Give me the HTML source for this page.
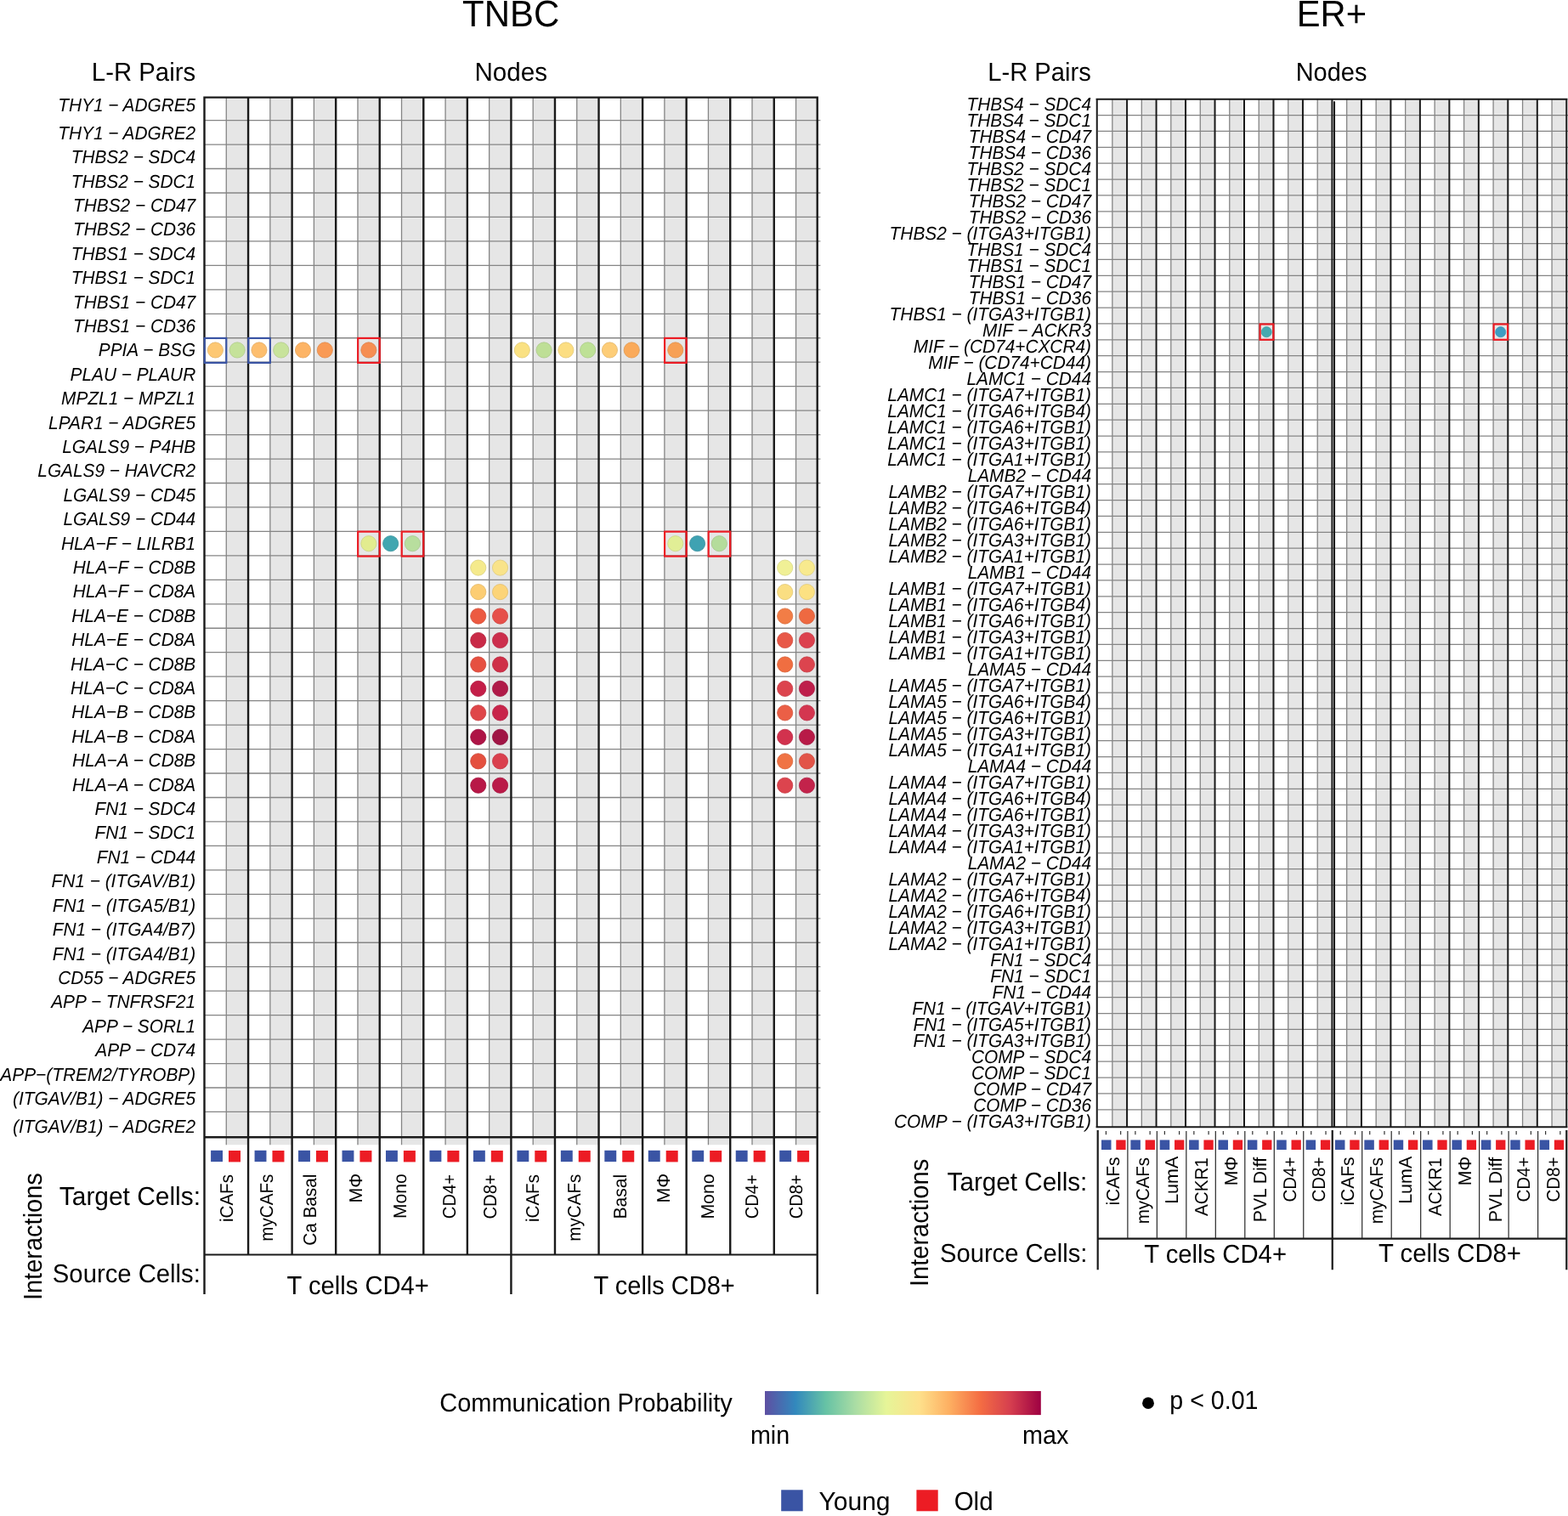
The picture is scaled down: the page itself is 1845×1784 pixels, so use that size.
<!DOCTYPE html>
<html><head><meta charset="utf-8"><title>CellChat comparison</title>
<style>html,body{margin:0;padding:0;background:#fff;}body{width:1845px;height:1784px;overflow:hidden;}svg{display:block;}</style>
</head><body>
<svg width="1845" height="1784" viewBox="0 0 1845 1784" text-rendering="geometricPrecision">
<rect x="0" y="0" width="1845" height="1784" fill="#fff"/>
<g fill="#e6e6e6"><rect x="266.28" y="114.6" width="25.78" height="1232.6"/><rect x="317.84" y="114.6" width="25.78" height="1232.6"/><rect x="369.4" y="114.6" width="25.78" height="1232.6"/><rect x="420.96" y="114.6" width="25.78" height="1232.6"/><rect x="472.52" y="114.6" width="25.78" height="1232.6"/><rect x="524.08" y="114.6" width="25.78" height="1232.6"/><rect x="575.64" y="114.6" width="25.78" height="1232.6"/><rect x="627.2" y="114.6" width="25.78" height="1232.6"/><rect x="678.76" y="114.6" width="25.78" height="1232.6"/><rect x="730.32" y="114.6" width="25.78" height="1232.6"/><rect x="781.88" y="114.6" width="25.78" height="1232.6"/><rect x="833.44" y="114.6" width="25.78" height="1232.6"/><rect x="885" y="114.6" width="25.78" height="1232.6"/><rect x="936.56" y="114.6" width="25.78" height="1232.6"/></g>
<path d="M240.5 141.6H965.34M240.5 170.06H965.34M240.5 198.52H965.34M240.5 226.98H965.34M240.5 255.44H965.34M240.5 283.9H965.34M240.5 312.36H965.34M240.5 340.82H965.34M240.5 369.28H965.34M240.5 397.74H965.34M240.5 426.2H965.34M240.5 454.66H965.34M240.5 483.12H965.34M240.5 511.58H965.34M240.5 540.04H965.34M240.5 568.5H965.34M240.5 596.96H965.34M240.5 625.42H965.34M240.5 653.88H965.34M240.5 682.34H965.34M240.5 710.8H965.34M240.5 739.26H965.34M240.5 767.72H965.34M240.5 796.18H965.34M240.5 824.64H965.34M240.5 853.1H965.34M240.5 881.56H965.34M240.5 910.02H965.34M240.5 938.48H965.34M240.5 966.94H965.34M240.5 995.4H965.34M240.5 1023.86H965.34M240.5 1052.32H965.34M240.5 1080.78H965.34M240.5 1109.24H965.34M240.5 1137.7H965.34M240.5 1166.16H965.34M240.5 1194.62H965.34M240.5 1223.08H965.34M240.5 1251.54H965.34M240.5 1280H965.34M240.5 1308.46H965.34M266.28 114.6V1347.2M317.84 114.6V1347.2M369.4 114.6V1347.2M420.96 114.6V1347.2M472.52 114.6V1347.2M524.08 114.6V1347.2M575.64 114.6V1347.2M627.2 114.6V1347.2M678.76 114.6V1347.2M730.32 114.6V1347.2M781.88 114.6V1347.2M833.44 114.6V1347.2M885 114.6V1347.2M936.56 114.6V1347.2" stroke="#858585" stroke-width="1.3" fill="none"/>
<path d="M240.5 114.6V1523M292.06 114.6V1476.5M343.62 114.6V1476.5M395.18 114.6V1476.5M446.74 114.6V1476.5M498.3 114.6V1476.5M549.86 114.6V1476.5M601.42 114.6V1523M652.98 114.6V1476.5M704.54 114.6V1476.5M756.1 114.6V1476.5M807.66 114.6V1476.5M859.22 114.6V1476.5M910.78 114.6V1476.5M961.7 114.6V1523M239.3 114.6H962.9M239.3 1338.2H962.9" stroke="#1a1a1a" stroke-width="2.4" fill="none"/>
<path d="M240.5 1476.5H961.7" stroke="#1a1a1a" stroke-width="2.2" fill="none"/>
<g fill="#e6e6e6"><rect x="1308.84" y="116.7" width="17.24" height="1209.6"/><rect x="1343.32" y="116.7" width="17.24" height="1209.6"/><rect x="1377.8" y="116.7" width="17.24" height="1209.6"/><rect x="1412.28" y="116.7" width="17.24" height="1209.6"/><rect x="1446.76" y="116.7" width="17.24" height="1209.6"/><rect x="1481.24" y="116.7" width="17.24" height="1209.6"/><rect x="1515.72" y="116.7" width="17.24" height="1209.6"/><rect x="1550.2" y="116.7" width="17.24" height="1209.6"/><rect x="1584.68" y="116.7" width="17.24" height="1209.6"/><rect x="1619.16" y="116.7" width="17.24" height="1209.6"/><rect x="1653.64" y="116.7" width="17.24" height="1209.6"/><rect x="1688.12" y="116.7" width="17.24" height="1209.6"/><rect x="1722.6" y="116.7" width="17.24" height="1209.6"/><rect x="1757.08" y="116.7" width="17.24" height="1209.6"/><rect x="1791.56" y="116.7" width="17.24" height="1209.6"/><rect x="1826.04" y="116.7" width="17.24" height="1209.6"/></g>
<path d="M1291.95 135.57H1845M1291.95 154.45H1845M1291.95 173.32H1845M1291.95 192.2H1845M1291.95 211.07H1845M1291.95 229.95H1845M1291.95 248.82H1845M1291.95 267.7H1845M1291.95 286.57H1845M1291.95 305.45H1845M1291.95 324.32H1845M1291.95 343.2H1845M1291.95 362.07H1845M1291.95 380.95H1845M1291.95 399.82H1845M1291.95 418.7H1845M1291.95 437.57H1845M1291.95 456.45H1845M1291.95 475.32H1845M1291.95 494.2H1845M1291.95 513.08H1845M1291.95 531.95H1845M1291.95 550.83H1845M1291.95 569.7H1845M1291.95 588.58H1845M1291.95 607.45H1845M1291.95 626.33H1845M1291.95 645.2H1845M1291.95 664.08H1845M1291.95 682.95H1845M1291.95 701.83H1845M1291.95 720.7H1845M1291.95 739.58H1845M1291.95 758.45H1845M1291.95 777.33H1845M1291.95 796.2H1845M1291.95 815.08H1845M1291.95 833.95H1845M1291.95 852.83H1845M1291.95 871.7H1845M1291.95 890.58H1845M1291.95 909.45H1845M1291.95 928.33H1845M1291.95 947.2H1845M1291.95 966.08H1845M1291.95 984.95H1845M1291.95 1003.83H1845M1291.95 1022.7H1845M1291.95 1041.58H1845M1291.95 1060.45H1845M1291.95 1079.33H1845M1291.95 1098.2H1845M1291.95 1117.08H1845M1291.95 1135.95H1845M1291.95 1154.83H1845M1291.95 1173.7H1845M1291.95 1192.58H1845M1291.95 1211.45H1845M1291.95 1230.33H1845M1291.95 1249.2H1845M1291.95 1268.08H1845M1291.95 1286.95H1845M1291.95 1305.83H1845M1308.84 116.7V1326.3M1343.32 116.7V1326.3M1377.8 116.7V1326.3M1412.28 116.7V1326.3M1446.76 116.7V1326.3M1481.24 116.7V1326.3M1515.72 116.7V1326.3M1550.2 116.7V1326.3M1584.68 116.7V1326.3M1619.16 116.7V1326.3M1653.64 116.7V1326.3M1688.12 116.7V1326.3M1722.6 116.7V1326.3M1757.08 116.7V1326.3M1791.56 116.7V1326.3M1826.04 116.7V1326.3" stroke="#858585" stroke-width="1.3" fill="none"/>
<path d="M1290.75 116.7V1326.3M1326.08 116.7V1326.3M1360.56 116.7V1326.3M1395.04 116.7V1326.3M1429.52 116.7V1326.3M1464 116.7V1326.3M1498.48 116.7V1326.3M1532.96 116.7V1326.3M1567.44 116.7V1326.3M1601.92 116.7V1326.3M1636.4 116.7V1326.3M1670.88 116.7V1326.3M1705.36 116.7V1326.3M1739.84 116.7V1326.3M1774.32 116.7V1326.3M1808.8 116.7V1326.3M1843.28 116.7V1326.3M1570.04 119.2V1326.3M1289.55 116.7H1844.48M1289.55 1326.3H1844.48" stroke="#1a1a1a" stroke-width="2.0" fill="none"/>
<path d="M1291.7 1330V1494.2M1567.74 1330V1494.2M1843.28 1330V1494.2M1291.6 1457.6H1843.28" stroke="#1a1a1a" stroke-width="2.2" fill="none"/>
<path d="M1326.88 1331V1457M1361.36 1331V1457M1395.84 1331V1457M1430.32 1331V1457M1464.8 1331V1457M1499.28 1331V1457M1533.76 1331V1457M1602.72 1331V1457M1637.2 1331V1457M1671.68 1331V1457M1706.16 1331V1457M1740.64 1331V1457M1775.12 1331V1457M1809.6 1331V1457" stroke="#2a2a2a" stroke-width="1.2" fill="none"/>
<path d="M1301.42 1331V1335.2M1318.66 1331V1335.2M1335.9 1331V1335.2M1353.14 1331V1335.2M1370.38 1331V1335.2M1387.62 1331V1335.2M1404.86 1331V1335.2M1422.1 1331V1335.2M1439.34 1331V1335.2M1456.58 1331V1335.2M1473.82 1331V1335.2M1491.06 1331V1335.2M1508.3 1331V1335.2M1525.54 1331V1335.2M1542.78 1331V1335.2M1560.02 1331V1335.2M1577.26 1331V1335.2M1594.5 1331V1335.2M1611.74 1331V1335.2M1628.98 1331V1335.2M1646.22 1331V1335.2M1663.46 1331V1335.2M1680.7 1331V1335.2M1697.94 1331V1335.2M1715.18 1331V1335.2M1732.42 1331V1335.2M1749.66 1331V1335.2M1766.9 1331V1335.2M1784.14 1331V1335.2M1801.38 1331V1335.2M1818.62 1331V1335.2M1835.86 1331V1335.2" stroke="#333" stroke-width="1.2" fill="none"/>
<rect x="248.1" y="1353.8" width="13.9" height="13.3" fill="#3a54a4"/><rect x="269" y="1354.0" width="14" height="13.4" fill="#ec1c24"/><rect x="299.57" y="1353.8" width="13.9" height="13.3" fill="#3a54a4"/><rect x="320.47" y="1354.0" width="14" height="13.4" fill="#ec1c24"/><rect x="351.04" y="1353.8" width="13.9" height="13.3" fill="#3a54a4"/><rect x="371.94" y="1354.0" width="14" height="13.4" fill="#ec1c24"/><rect x="402.51" y="1353.8" width="13.9" height="13.3" fill="#3a54a4"/><rect x="423.41" y="1354.0" width="14" height="13.4" fill="#ec1c24"/><rect x="453.98" y="1353.8" width="13.9" height="13.3" fill="#3a54a4"/><rect x="474.88" y="1354.0" width="14" height="13.4" fill="#ec1c24"/><rect x="505.45" y="1353.8" width="13.9" height="13.3" fill="#3a54a4"/><rect x="526.35" y="1354.0" width="14" height="13.4" fill="#ec1c24"/><rect x="556.92" y="1353.8" width="13.9" height="13.3" fill="#3a54a4"/><rect x="577.82" y="1354.0" width="14" height="13.4" fill="#ec1c24"/><rect x="608.39" y="1353.8" width="13.9" height="13.3" fill="#3a54a4"/><rect x="629.29" y="1354.0" width="14" height="13.4" fill="#ec1c24"/><rect x="659.86" y="1353.8" width="13.9" height="13.3" fill="#3a54a4"/><rect x="680.76" y="1354.0" width="14" height="13.4" fill="#ec1c24"/><rect x="711.33" y="1353.8" width="13.9" height="13.3" fill="#3a54a4"/><rect x="732.23" y="1354.0" width="14" height="13.4" fill="#ec1c24"/><rect x="762.8" y="1353.8" width="13.9" height="13.3" fill="#3a54a4"/><rect x="783.7" y="1354.0" width="14" height="13.4" fill="#ec1c24"/><rect x="814.27" y="1353.8" width="13.9" height="13.3" fill="#3a54a4"/><rect x="835.17" y="1354.0" width="14" height="13.4" fill="#ec1c24"/><rect x="865.74" y="1353.8" width="13.9" height="13.3" fill="#3a54a4"/><rect x="886.64" y="1354.0" width="14" height="13.4" fill="#ec1c24"/><rect x="917.21" y="1353.8" width="13.9" height="13.3" fill="#3a54a4"/><rect x="938.11" y="1354.0" width="14" height="13.4" fill="#ec1c24"/><rect x="1296" y="1341.5" width="11.5" height="11.5" fill="#3a54a4"/><rect x="1313.3" y="1341.5" width="11.3" height="11.5" fill="#ec1c24"/><rect x="1330.37" y="1341.5" width="11.5" height="11.5" fill="#3a54a4"/><rect x="1347.67" y="1341.5" width="11.3" height="11.5" fill="#ec1c24"/><rect x="1364.74" y="1341.5" width="11.5" height="11.5" fill="#3a54a4"/><rect x="1382.04" y="1341.5" width="11.3" height="11.5" fill="#ec1c24"/><rect x="1399.11" y="1341.5" width="11.5" height="11.5" fill="#3a54a4"/><rect x="1416.41" y="1341.5" width="11.3" height="11.5" fill="#ec1c24"/><rect x="1433.48" y="1341.5" width="11.5" height="11.5" fill="#3a54a4"/><rect x="1450.78" y="1341.5" width="11.3" height="11.5" fill="#ec1c24"/><rect x="1467.85" y="1341.5" width="11.5" height="11.5" fill="#3a54a4"/><rect x="1485.15" y="1341.5" width="11.3" height="11.5" fill="#ec1c24"/><rect x="1502.22" y="1341.5" width="11.5" height="11.5" fill="#3a54a4"/><rect x="1519.52" y="1341.5" width="11.3" height="11.5" fill="#ec1c24"/><rect x="1536.59" y="1341.5" width="11.5" height="11.5" fill="#3a54a4"/><rect x="1553.89" y="1341.5" width="11.3" height="11.5" fill="#ec1c24"/><rect x="1570.96" y="1341.5" width="11.5" height="11.5" fill="#3a54a4"/><rect x="1588.26" y="1341.5" width="11.3" height="11.5" fill="#ec1c24"/><rect x="1605.33" y="1341.5" width="11.5" height="11.5" fill="#3a54a4"/><rect x="1622.63" y="1341.5" width="11.3" height="11.5" fill="#ec1c24"/><rect x="1639.7" y="1341.5" width="11.5" height="11.5" fill="#3a54a4"/><rect x="1657" y="1341.5" width="11.3" height="11.5" fill="#ec1c24"/><rect x="1674.07" y="1341.5" width="11.5" height="11.5" fill="#3a54a4"/><rect x="1691.37" y="1341.5" width="11.3" height="11.5" fill="#ec1c24"/><rect x="1708.44" y="1341.5" width="11.5" height="11.5" fill="#3a54a4"/><rect x="1725.74" y="1341.5" width="11.3" height="11.5" fill="#ec1c24"/><rect x="1742.81" y="1341.5" width="11.5" height="11.5" fill="#3a54a4"/><rect x="1760.11" y="1341.5" width="11.3" height="11.5" fill="#ec1c24"/><rect x="1777.18" y="1341.5" width="11.5" height="11.5" fill="#3a54a4"/><rect x="1794.48" y="1341.5" width="11.3" height="11.5" fill="#ec1c24"/><rect x="1811.55" y="1341.5" width="11.5" height="11.5" fill="#3a54a4"/><rect x="1828.85" y="1341.5" width="11.3" height="11.5" fill="#ec1c24"/>
<circle cx="253.39" cy="411.97" r="9.1" fill="#fdc873" stroke="#e3b467" stroke-width="0.8"/><circle cx="279.17" cy="411.97" r="9.1" fill="#c5e29a" stroke="#b1cb8a" stroke-width="0.8"/><circle cx="304.95" cy="411.97" r="9.1" fill="#fdbe6e" stroke="#e3ab63" stroke-width="0.8"/><circle cx="330.73" cy="411.97" r="9.1" fill="#c8e39b" stroke="#b4cc8b" stroke-width="0.8"/><circle cx="356.51" cy="411.97" r="9.1" fill="#fdb465" stroke="#e3a25a" stroke-width="0.8"/><circle cx="382.29" cy="411.97" r="9.1" fill="#f99a55" stroke="#e08a4c" stroke-width="0.8"/><circle cx="433.85" cy="411.97" r="9.1" fill="#f68e52" stroke="#dd7f49" stroke-width="0.8"/><circle cx="614.31" cy="411.97" r="9.1" fill="#fae182" stroke="#e1ca75" stroke-width="0.8"/><circle cx="640.09" cy="411.97" r="9.1" fill="#bedf96" stroke="#abc887" stroke-width="0.8"/><circle cx="665.87" cy="411.97" r="9.1" fill="#fcde82" stroke="#e2c775" stroke-width="0.8"/><circle cx="691.65" cy="411.97" r="9.1" fill="#bee196" stroke="#abca87" stroke-width="0.8"/><circle cx="717.43" cy="411.97" r="9.1" fill="#fdcd78" stroke="#e3b86c" stroke-width="0.8"/><circle cx="743.21" cy="411.97" r="9.1" fill="#faaa5a" stroke="#e19951" stroke-width="0.8"/><circle cx="794.77" cy="411.97" r="9.1" fill="#f7a055" stroke="#de904c" stroke-width="0.8"/><circle cx="433.85" cy="639.65" r="9.1" fill="#e2ec8f" stroke="#cbd480" stroke-width="0.8"/><circle cx="459.63" cy="639.65" r="9.1" fill="#42a6b0" stroke="#3b959e" stroke-width="0.8"/><circle cx="485.41" cy="639.65" r="9.1" fill="#b8de9e" stroke="#a5c78e" stroke-width="0.8"/><circle cx="794.77" cy="639.65" r="9.1" fill="#e1ee96" stroke="#cad687" stroke-width="0.8"/><circle cx="820.55" cy="639.65" r="9.1" fill="#3fa2b2" stroke="#3891a0" stroke-width="0.8"/><circle cx="846.33" cy="639.65" r="9.1" fill="#b4dc9b" stroke="#a2c68b" stroke-width="0.8"/><circle cx="562.75" cy="668.11" r="9.1" fill="#f5ea8c" stroke="#dcd27e" stroke-width="0.8"/><circle cx="588.53" cy="668.11" r="9.1" fill="#f9e38a" stroke="#e0cc7c" stroke-width="0.8"/><circle cx="923.67" cy="668.11" r="9.1" fill="#f0f096" stroke="#d8d887" stroke-width="0.8"/><circle cx="949.45" cy="668.11" r="9.1" fill="#f8ea8e" stroke="#dfd27f" stroke-width="0.8"/><circle cx="562.75" cy="696.57" r="9.1" fill="#fccd73" stroke="#e2b867" stroke-width="0.8"/><circle cx="588.53" cy="696.57" r="9.1" fill="#fcd478" stroke="#e2be6c" stroke-width="0.8"/><circle cx="923.67" cy="696.57" r="9.1" fill="#fade82" stroke="#e1c775" stroke-width="0.8"/><circle cx="949.45" cy="696.57" r="9.1" fill="#fce182" stroke="#e2ca75" stroke-width="0.8"/><circle cx="562.75" cy="725.03" r="9.1" fill="#ec5a41" stroke="#d4513a" stroke-width="0.8"/><circle cx="588.53" cy="725.03" r="9.1" fill="#e6504a" stroke="#cf4842" stroke-width="0.8"/><circle cx="923.67" cy="725.03" r="9.1" fill="#f27d46" stroke="#d9703f" stroke-width="0.8"/><circle cx="949.45" cy="725.03" r="9.1" fill="#ee6941" stroke="#d65e3a" stroke-width="0.8"/><circle cx="562.75" cy="753.49" r="9.1" fill="#c92a47" stroke="#b4253f" stroke-width="0.8"/><circle cx="588.53" cy="753.49" r="9.1" fill="#cc2e4c" stroke="#b72944" stroke-width="0.8"/><circle cx="923.67" cy="753.49" r="9.1" fill="#e85848" stroke="#d04f40" stroke-width="0.8"/><circle cx="949.45" cy="753.49" r="9.1" fill="#dc414e" stroke="#c63a46" stroke-width="0.8"/><circle cx="562.75" cy="781.95" r="9.1" fill="#e65041" stroke="#cf483a" stroke-width="0.8"/><circle cx="588.53" cy="781.95" r="9.1" fill="#cf2f48" stroke="#ba2a40" stroke-width="0.8"/><circle cx="923.67" cy="781.95" r="9.1" fill="#f06e41" stroke="#d8633a" stroke-width="0.8"/><circle cx="949.45" cy="781.95" r="9.1" fill="#dc444e" stroke="#c63d46" stroke-width="0.8"/><circle cx="562.75" cy="810.41" r="9.1" fill="#c41e48" stroke="#b01b40" stroke-width="0.8"/><circle cx="588.53" cy="810.41" r="9.1" fill="#b01a48" stroke="#9e1740" stroke-width="0.8"/><circle cx="923.67" cy="810.41" r="9.1" fill="#dc444e" stroke="#c63d46" stroke-width="0.8"/><circle cx="949.45" cy="810.41" r="9.1" fill="#be1e4b" stroke="#ab1b43" stroke-width="0.8"/><circle cx="562.75" cy="838.87" r="9.1" fill="#df4649" stroke="#c83f41" stroke-width="0.8"/><circle cx="588.53" cy="838.87" r="9.1" fill="#c8244a" stroke="#b42042" stroke-width="0.8"/><circle cx="923.67" cy="838.87" r="9.1" fill="#eb5f46" stroke="#d3553f" stroke-width="0.8"/><circle cx="949.45" cy="838.87" r="9.1" fill="#d43650" stroke="#be3048" stroke-width="0.8"/><circle cx="562.75" cy="867.33" r="9.1" fill="#ae1446" stroke="#9c123f" stroke-width="0.8"/><circle cx="588.53" cy="867.33" r="9.1" fill="#a01444" stroke="#90123d" stroke-width="0.8"/><circle cx="923.67" cy="867.33" r="9.1" fill="#d2324e" stroke="#bd2d46" stroke-width="0.8"/><circle cx="949.45" cy="867.33" r="9.1" fill="#b81a47" stroke="#a5173f" stroke-width="0.8"/><circle cx="562.75" cy="895.79" r="9.1" fill="#e4503f" stroke="#cd4838" stroke-width="0.8"/><circle cx="588.53" cy="895.79" r="9.1" fill="#da404e" stroke="#c43946" stroke-width="0.8"/><circle cx="923.67" cy="895.79" r="9.1" fill="#f07344" stroke="#d8673d" stroke-width="0.8"/><circle cx="949.45" cy="895.79" r="9.1" fill="#e25448" stroke="#cb4b40" stroke-width="0.8"/><circle cx="562.75" cy="924.25" r="9.1" fill="#b81847" stroke="#a5153f" stroke-width="0.8"/><circle cx="588.53" cy="924.25" r="9.1" fill="#ba1a48" stroke="#a71740" stroke-width="0.8"/><circle cx="923.67" cy="924.25" r="9.1" fill="#dc444e" stroke="#c63d46" stroke-width="0.8"/><circle cx="949.45" cy="924.25" r="9.1" fill="#c3234b" stroke="#af1f43" stroke-width="0.8"/><circle cx="1490.26" cy="390.69" r="6.1" fill="#47a9b0" stroke="#3f989e" stroke-width="0.7"/><circle cx="1765.7" cy="390.69" r="6.1" fill="#3d9dc2" stroke="#368dae" stroke-width="0.7"/>
<rect x="240.7" y="397.94" width="25.58" height="28.96" fill="none" stroke="#3a54a4" stroke-width="2.2"/><rect x="292.26" y="397.94" width="25.58" height="28.96" fill="none" stroke="#3a54a4" stroke-width="2.2"/><rect x="421.16" y="397.94" width="25.58" height="28.96" fill="none" stroke="#ec1c24" stroke-width="2.2"/><rect x="782.08" y="397.94" width="25.58" height="28.96" fill="none" stroke="#ec1c24" stroke-width="2.2"/><rect x="421.16" y="625.62" width="25.58" height="28.96" fill="none" stroke="#ec1c24" stroke-width="2.2"/><rect x="472.72" y="625.62" width="25.58" height="28.96" fill="none" stroke="#ec1c24" stroke-width="2.2"/><rect x="782.08" y="625.62" width="25.58" height="28.96" fill="none" stroke="#ec1c24" stroke-width="2.2"/><rect x="833.64" y="625.62" width="25.58" height="28.96" fill="none" stroke="#ec1c24" stroke-width="2.2"/><rect x="1482.6" y="381.5" width="15.8" height="18.3" fill="none" stroke="#ec1c24" stroke-width="2.2"/><rect x="1757.6" y="381.5" width="16.5" height="18.3" fill="none" stroke="#ec1c24" stroke-width="2.2"/>
<g style="font-family:'Liberation Sans',Arial,sans-serif" fill="#000">
<text id="tnbc" transform="translate(544.04 31) scale(0.9621 1)" font-size="43.6">TNBC</text>
<text id="erp" transform="translate(1525.74 31.2) scale(0.9568 1)" font-size="43.6">ER+</text>
<text id="nodesL" transform="translate(558.46 95.2) scale(0.9738 1)" font-size="30.4">Nodes</text>
<text id="nodesR" transform="translate(1524.7 94.6) scale(0.9529 1)" font-size="30.4">Nodes</text>
<text id="lrL" transform="translate(107.87 94.9) scale(0.9650 1)" font-size="30.4">L-R Pairs</text>
<text id="lrR" transform="translate(1162.3 95.1) scale(0.9585 1)" font-size="30.4">L-R Pairs</text>
<text id="tcL" transform="translate(69.82 1418) scale(0.9836 1)" font-size="30.4">Target Cells:</text>
<text id="scL" transform="translate(61.84 1508.8) scale(0.9627 1)" font-size="30.4">Source Cells:</text>
<text id="cd4L" transform="translate(337.61 1523) scale(0.9590 1)" font-size="30.4">T cells CD4+</text>
<text id="cd8L" transform="translate(698.61 1523) scale(0.9532 1)" font-size="30.4">T cells CD8+</text>
<text id="tcR" transform="translate(1114.62 1400.8) scale(0.9753 1)" font-size="30.4">Target Cells:</text>
<text id="scR" transform="translate(1106.06 1485.1) scale(0.9588 1)" font-size="30.4">Source Cells:</text>
<text id="cd4R" transform="translate(1346.21 1485.9) scale(0.9628 1)" font-size="30.4">T cells CD4+</text>
<text id="cd8R" transform="translate(1622.04 1484.9) scale(0.9634 1)" font-size="30.4">T cells CD8+</text>
<text id="comm" transform="translate(517.27 1661) scale(0.9531 1)" font-size="30.4">Communication Probability</text>
<text id="min" transform="translate(882.92 1698.8) scale(0.9444 1)" font-size="30.4">min</text>
<text id="max" transform="translate(1202.91 1698.8) scale(0.9473 1)" font-size="30.4">max</text>
<text id="pval" transform="translate(1376.28 1657.6) scale(0.9417 1)" font-size="30.4">p &lt; 0.01</text>
<text id="young" transform="translate(963.41 1776.7) scale(0.9892 1)" font-size="30.4">Young</text>
<text id="old" transform="translate(1122.65 1776.7) scale(0.9705 1)" font-size="30.4">Old</text>
<text id="intL" transform="translate(48.9 1530.08) rotate(-90) scale(0.9542 1)" font-size="30.4">Interactions</text>
<text id="intR" transform="translate(1092.4 1514.06) rotate(-90) scale(0.9562 1)" font-size="30.4">Interactions</text>
<text id="l0" transform="translate(273.7 1437.95) rotate(-90) scale(0.9544 1)" font-size="21.5">iCAFs</text>
<text id="l1" transform="translate(320.55 1460.74) rotate(-90) scale(0.9600 1)" font-size="21.5">myCAFs</text>
<text id="l2" transform="translate(371.6 1465.77) rotate(-90) scale(0.9635 1)" font-size="21.5">Ca Basal</text>
<text id="l3" transform="translate(425.75 1415.58) rotate(-90) scale(0.9906 1)" font-size="21.5">MΦ</text>
<text id="l4" transform="translate(478.4 1433.97) rotate(-90) scale(0.9824 1)" font-size="21.5">Mono</text>
<text id="l5" transform="translate(535.8 1434.16) rotate(-90) scale(0.9370 1)" font-size="21.5">CD4+</text>
<text id="l6" transform="translate(584.3 1434.55) rotate(-90) scale(0.9407 1)" font-size="21.5">CD8+</text>
<text id="l7" transform="translate(633.75 1437.95) rotate(-90) scale(0.9544 1)" font-size="21.5">iCAFs</text>
<text id="l8" transform="translate(683.15 1460.74) rotate(-90) scale(0.9588 1)" font-size="21.5">myCAFs</text>
<text id="l9" transform="translate(736.95 1434.57) rotate(-90) scale(0.9824 1)" font-size="21.5">Basal</text>
<text id="l10" transform="translate(787.9 1415.58) rotate(-90) scale(0.9906 1)" font-size="21.5">MΦ</text>
<text id="l11" transform="translate(840.45 1434.58) rotate(-90) scale(0.9882 1)" font-size="21.5">Mono</text>
<text id="l12" transform="translate(891.9 1434.16) rotate(-90) scale(0.9315 1)" font-size="21.5">CD4+</text>
<text id="l13" transform="translate(943.8 1434.16) rotate(-90) scale(0.9315 1)" font-size="21.5">CD8+</text>
<text id="r0" transform="translate(1317.25 1418.55) rotate(-90) scale(0.9750 1)" font-size="21.5">iCAFs</text>
<text id="r1" transform="translate(1351.8 1440.34) rotate(-90) scale(0.9506 1)" font-size="21.5">myCAFs</text>
<text id="r2" transform="translate(1386.4 1416.79) rotate(-90) scale(0.9963 1)" font-size="21.5">LumA</text>
<text id="r3" transform="translate(1421 1430.98) rotate(-90) scale(0.9586 1)" font-size="21.5">ACKR1</text>
<text id="r4" transform="translate(1455.6 1395.37) rotate(-90) scale(0.9844 1)" font-size="21.5">MΦ</text>
<text id="r5" transform="translate(1490.4 1438.17) rotate(-90) scale(0.9816 1)" font-size="21.5">PVL Diff</text>
<text id="r6" transform="translate(1524.6 1414.56) rotate(-90) scale(0.9556 1)" font-size="21.5">CD4+</text>
<text id="r7" transform="translate(1558.9 1414.56) rotate(-90) scale(0.9556 1)" font-size="21.5">CD8+</text>
<text id="r8" transform="translate(1592.8 1418.55) rotate(-90) scale(0.9750 1)" font-size="21.5">iCAFs</text>
<text id="r9" transform="translate(1626.7 1440.34) rotate(-90) scale(0.9506 1)" font-size="21.5">myCAFs</text>
<text id="r10" transform="translate(1660.9 1416.79) rotate(-90) scale(0.9963 1)" font-size="21.5">LumA</text>
<text id="r11" transform="translate(1696 1430.98) rotate(-90) scale(0.9586 1)" font-size="21.5">ACKR1</text>
<text id="r12" transform="translate(1730.9 1395.37) rotate(-90) scale(0.9844 1)" font-size="21.5">MΦ</text>
<text id="r13" transform="translate(1766.6 1438.17) rotate(-90) scale(0.9816 1)" font-size="21.5">PVL Diff</text>
<text id="r14" transform="translate(1799.6 1414.56) rotate(-90) scale(0.9556 1)" font-size="21.5">CD4+</text>
<text id="r15" transform="translate(1835.1 1414.56) rotate(-90) scale(0.9556 1)" font-size="21.5">CD8+</text>
<g font-size="21.7" font-style="italic" text-anchor="end"><text transform="translate(230.2 130.8) scale(0.9608 1)">THY1 − ADGRE5</text><text transform="translate(230.2 163.8) scale(0.9608 1)">THY1 − ADGRE2</text><text transform="translate(230.2 192.2) scale(0.9608 1)">THBS2 − SDC4</text><text transform="translate(230.2 220.61) scale(0.9608 1)">THBS2 − SDC1</text><text transform="translate(230.2 249.01) scale(0.9608 1)">THBS2 − CD47</text><text transform="translate(230.2 277.41) scale(0.9608 1)">THBS2 − CD36</text><text transform="translate(230.2 305.81) scale(0.9608 1)">THBS1 − SDC4</text><text transform="translate(230.2 334.22) scale(0.9608 1)">THBS1 − SDC1</text><text transform="translate(230.2 362.62) scale(0.9608 1)">THBS1 − CD47</text><text transform="translate(230.2 391.02) scale(0.9608 1)">THBS1 − CD36</text><text transform="translate(230.2 419.43) scale(0.9608 1)">PPIA − BSG</text><text transform="translate(230.2 447.83) scale(0.9608 1)">PLAU − PLAUR</text><text transform="translate(230.2 476.23) scale(0.9608 1)">MPZL1 − MPZL1</text><text transform="translate(230.2 504.64) scale(0.9608 1)">LPAR1 − ADGRE5</text><text transform="translate(230.2 533.04) scale(0.9608 1)">LGALS9 − P4HB</text><text transform="translate(230.2 561.44) scale(0.9608 1)">LGALS9 − HAVCR2</text><text transform="translate(230.2 589.85) scale(0.9608 1)">LGALS9 − CD45</text><text transform="translate(230.2 618.25) scale(0.9608 1)">LGALS9 − CD44</text><text transform="translate(230.2 646.65) scale(0.9608 1)">HLA−F − LILRB1</text><text transform="translate(230.2 675.05) scale(0.9608 1)">HLA−F − CD8B</text><text transform="translate(230.2 703.46) scale(0.9608 1)">HLA−F − CD8A</text><text transform="translate(230.2 731.86) scale(0.9608 1)">HLA−E − CD8B</text><text transform="translate(230.2 760.26) scale(0.9608 1)">HLA−E − CD8A</text><text transform="translate(230.2 788.67) scale(0.9608 1)">HLA−C − CD8B</text><text transform="translate(230.2 817.07) scale(0.9608 1)">HLA−C − CD8A</text><text transform="translate(230.2 845.47) scale(0.9608 1)">HLA−B − CD8B</text><text transform="translate(230.2 873.88) scale(0.9608 1)">HLA−B − CD8A</text><text transform="translate(230.2 902.28) scale(0.9608 1)">HLA−A − CD8B</text><text transform="translate(230.2 930.68) scale(0.9608 1)">HLA−A − CD8A</text><text transform="translate(230.2 959.08) scale(0.9608 1)">FN1 − SDC4</text><text transform="translate(230.2 987.49) scale(0.9608 1)">FN1 − SDC1</text><text transform="translate(230.2 1015.89) scale(0.9608 1)">FN1 − CD44</text><text transform="translate(230.2 1044.29) scale(0.9608 1)">FN1 − (ITGAV/B1)</text><text transform="translate(230.2 1072.7) scale(0.9608 1)">FN1 − (ITGA5/B1)</text><text transform="translate(230.2 1101.1) scale(0.9608 1)">FN1 − (ITGA4/B7)</text><text transform="translate(230.2 1129.5) scale(0.9608 1)">FN1 − (ITGA4/B1)</text><text transform="translate(230.2 1157.9) scale(0.9608 1)">CD55 − ADGRE5</text><text transform="translate(230.2 1186.31) scale(0.9608 1)">APP − TNFRSF21</text><text transform="translate(230.2 1214.71) scale(0.9608 1)">APP − SORL1</text><text transform="translate(230.2 1243.11) scale(0.9608 1)">APP − CD74</text><text transform="translate(230.2 1271.52) scale(0.9608 1)">APP−(TREM2/TYROBP)</text><text transform="translate(230.2 1299.92) scale(0.9608 1)">(ITGAV/B1) − ADGRE5</text><text transform="translate(230.2 1332.5) scale(0.9608 1)">(ITGAV/B1) − ADGRE2</text></g>
<g font-size="21.7" font-style="italic" text-anchor="end"><text transform="translate(1284 129.7) scale(0.9608 1)">THBS4 − SDC4</text><text transform="translate(1284 148.7) scale(0.9608 1)">THBS4 − SDC1</text><text transform="translate(1284 167.71) scale(0.9608 1)">THBS4 − CD47</text><text transform="translate(1284 186.71) scale(0.9608 1)">THBS4 − CD36</text><text transform="translate(1284 205.72) scale(0.9608 1)">THBS2 − SDC4</text><text transform="translate(1284 224.72) scale(0.9608 1)">THBS2 − SDC1</text><text transform="translate(1284 243.73) scale(0.9608 1)">THBS2 − CD47</text><text transform="translate(1284 262.74) scale(0.9608 1)">THBS2 − CD36</text><text transform="translate(1284 281.74) scale(0.9608 1)">THBS2 − (ITGA3+ITGB1)</text><text transform="translate(1284 300.75) scale(0.9608 1)">THBS1 − SDC4</text><text transform="translate(1284 319.75) scale(0.9608 1)">THBS1 − SDC1</text><text transform="translate(1284 338.75) scale(0.9608 1)">THBS1 − CD47</text><text transform="translate(1284 357.76) scale(0.9608 1)">THBS1 − CD36</text><text transform="translate(1284 376.76) scale(0.9608 1)">THBS1 − (ITGA3+ITGB1)</text><text transform="translate(1284 395.77) scale(0.9608 1)">MIF − ACKR3</text><text transform="translate(1284 414.77) scale(0.9608 1)">MIF − (CD74+CXCR4)</text><text transform="translate(1284 433.78) scale(0.9608 1)">MIF − (CD74+CD44)</text><text transform="translate(1284 452.78) scale(0.9608 1)">LAMC1 − CD44</text><text transform="translate(1284 471.79) scale(0.9608 1)">LAMC1 − (ITGA7+ITGB1)</text><text transform="translate(1284 490.79) scale(0.9608 1)">LAMC1 − (ITGA6+ITGB4)</text><text transform="translate(1284 509.8) scale(0.9608 1)">LAMC1 − (ITGA6+ITGB1)</text><text transform="translate(1284 528.8) scale(0.9608 1)">LAMC1 − (ITGA3+ITGB1)</text><text transform="translate(1284 547.81) scale(0.9608 1)">LAMC1 − (ITGA1+ITGB1)</text><text transform="translate(1284 566.81) scale(0.9608 1)">LAMB2 − CD44</text><text transform="translate(1284 585.82) scale(0.9608 1)">LAMB2 − (ITGA7+ITGB1)</text><text transform="translate(1284 604.83) scale(0.9608 1)">LAMB2 − (ITGA6+ITGB4)</text><text transform="translate(1284 623.83) scale(0.9608 1)">LAMB2 − (ITGA6+ITGB1)</text><text transform="translate(1284 642.84) scale(0.9608 1)">LAMB2 − (ITGA3+ITGB1)</text><text transform="translate(1284 661.84) scale(0.9608 1)">LAMB2 − (ITGA1+ITGB1)</text><text transform="translate(1284 680.85) scale(0.9608 1)">LAMB1 − CD44</text><text transform="translate(1284 699.85) scale(0.9608 1)">LAMB1 − (ITGA7+ITGB1)</text><text transform="translate(1284 718.86) scale(0.9608 1)">LAMB1 − (ITGA6+ITGB4)</text><text transform="translate(1284 737.86) scale(0.9608 1)">LAMB1 − (ITGA6+ITGB1)</text><text transform="translate(1284 756.87) scale(0.9608 1)">LAMB1 − (ITGA3+ITGB1)</text><text transform="translate(1284 775.87) scale(0.9608 1)">LAMB1 − (ITGA1+ITGB1)</text><text transform="translate(1284 794.88) scale(0.9608 1)">LAMA5 − CD44</text><text transform="translate(1284 813.88) scale(0.9608 1)">LAMA5 − (ITGA7+ITGB1)</text><text transform="translate(1284 832.88) scale(0.9608 1)">LAMA5 − (ITGA6+ITGB4)</text><text transform="translate(1284 851.89) scale(0.9608 1)">LAMA5 − (ITGA6+ITGB1)</text><text transform="translate(1284 870.89) scale(0.9608 1)">LAMA5 − (ITGA3+ITGB1)</text><text transform="translate(1284 889.9) scale(0.9608 1)">LAMA5 − (ITGA1+ITGB1)</text><text transform="translate(1284 908.9) scale(0.9608 1)">LAMA4 − CD44</text><text transform="translate(1284 927.91) scale(0.9608 1)">LAMA4 − (ITGA7+ITGB1)</text><text transform="translate(1284 946.91) scale(0.9608 1)">LAMA4 − (ITGA6+ITGB4)</text><text transform="translate(1284 965.92) scale(0.9608 1)">LAMA4 − (ITGA6+ITGB1)</text><text transform="translate(1284 984.92) scale(0.9608 1)">LAMA4 − (ITGA3+ITGB1)</text><text transform="translate(1284 1003.93) scale(0.9608 1)">LAMA4 − (ITGA1+ITGB1)</text><text transform="translate(1284 1022.93) scale(0.9608 1)">LAMA2 − CD44</text><text transform="translate(1284 1041.94) scale(0.9608 1)">LAMA2 − (ITGA7+ITGB1)</text><text transform="translate(1284 1060.94) scale(0.9608 1)">LAMA2 − (ITGA6+ITGB4)</text><text transform="translate(1284 1079.95) scale(0.9608 1)">LAMA2 − (ITGA6+ITGB1)</text><text transform="translate(1284 1098.95) scale(0.9608 1)">LAMA2 − (ITGA3+ITGB1)</text><text transform="translate(1284 1117.96) scale(0.9608 1)">LAMA2 − (ITGA1+ITGB1)</text><text transform="translate(1284 1136.96) scale(0.9608 1)">FN1 − SDC4</text><text transform="translate(1284 1155.97) scale(0.9608 1)">FN1 − SDC1</text><text transform="translate(1284 1174.97) scale(0.9608 1)">FN1 − CD44</text><text transform="translate(1284 1193.98) scale(0.9608 1)">FN1 − (ITGAV+ITGB1)</text><text transform="translate(1284 1212.98) scale(0.9608 1)">FN1 − (ITGA5+ITGB1)</text><text transform="translate(1284 1231.99) scale(0.9608 1)">FN1 − (ITGA3+ITGB1)</text><text transform="translate(1284 1250.99) scale(0.9608 1)">COMP − SDC4</text><text transform="translate(1284 1270) scale(0.9608 1)">COMP − SDC1</text><text transform="translate(1284 1289) scale(0.9608 1)">COMP − CD47</text><text transform="translate(1284 1308.01) scale(0.9608 1)">COMP − CD36</text><text transform="translate(1284 1327.01) scale(0.9608 1)">COMP − (ITGA3+ITGB1)</text></g>
</g>
<defs><linearGradient id="cb" x1="0" y1="0" x2="1" y2="0"><stop offset="0" stop-color="#5e4fa2"/><stop offset="0.11" stop-color="#3288bd"/><stop offset="0.22" stop-color="#66c2a5"/><stop offset="0.33" stop-color="#abdda4"/><stop offset="0.44" stop-color="#e6f598"/><stop offset="0.56" stop-color="#fee08b"/><stop offset="0.67" stop-color="#fdae61"/><stop offset="0.78" stop-color="#f46d43"/><stop offset="0.89" stop-color="#d53e4f"/><stop offset="1" stop-color="#9e0142"/></linearGradient></defs>
<rect x="900" y="1637" width="324.8" height="28.1" fill="url(#cb)"/>
<circle cx="1351" cy="1651.2" r="6.9" fill="#000"/>
<rect x="919.2" y="1753.3" width="25.5" height="25" fill="#3a54a4"/>
<rect x="1078.4" y="1753.3" width="25.3" height="25" fill="#ec1c24"/>
</svg>
</body></html>
